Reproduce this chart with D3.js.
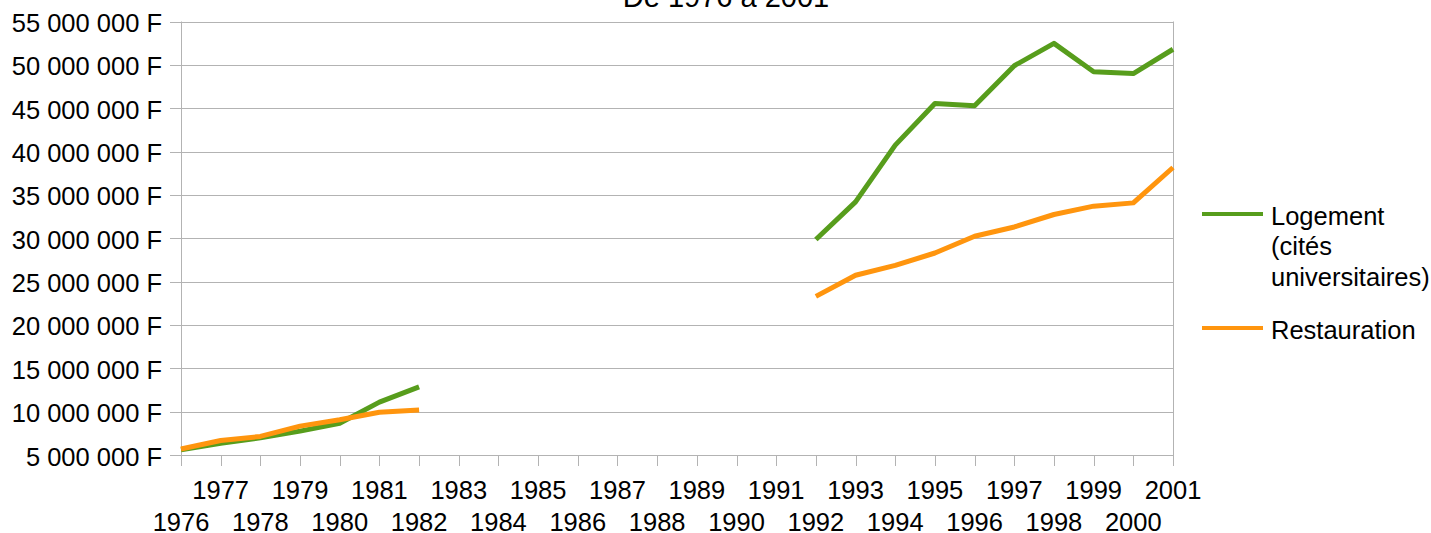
<!DOCTYPE html>
<html><head><meta charset="utf-8">
<script src="https://cdn.jsdelivr.net/npm/d3@7"></script>
<style>body{margin:0;background:#fff}svg{display:block}text{font-family:"Liberation Sans",Arial,sans-serif;fill:#000}</style>
</head><body><svg id="c" width="1431" height="533"></svg>
<script>
const years = d3.range(1976, 2002);
const logement = [5600000, 6360000, 6980000, 7750000, 8670000, 11100000, 12850000,
  null, null, null, null, null, null, null, null, null,
  29850000, 34190000, 40740000, 45550000, 45280000, 49900000, 52480000, 49200000, 49000000, 51800000];
const restauration = [5700000, 6670000, 7140000, 8330000, 9060000, 9940000, 10200000,
  null, null, null, null, null, null, null, null, null,
  23300000, 25730000, 26880000, 28300000, 30230000, 31300000, 32740000, 33700000, 34080000, 38160000];
const yTicks = d3.range(5000000, 55000001, 5000000);
const seriesNames = ["Logement (cités universitaires)", "Restauration"];
const legendLines = [["Logement", "(cités", "universitaires)"], ["Restauration"]];
const colors = ["#579d1c", "#ff950e"];
const title = "De 1976 à 2001";

const svg = d3.select("#c");
const L = 181, R = 1173, T = 21.5, B = 455;
const x = d3.scalePoint().domain(years).range([L, R]);
const y = d3.scaleLinear().domain([5000000, 55000000]).range([B, T]);
const loc = d3.formatLocale({decimal: ",", thousands: " ", grouping: [3], currency: ["", " F"]});
const fmt = loc.format("$,");
const grid = "#b3b3b3";
const fs = "25.5px";

// title
svg.append("text").attr("x", 726).attr("y", 7).attr("text-anchor", "middle")
  .style("font-size", "29px").text(title);

// gridlines
svg.append("g").selectAll("line").data(yTicks).join("line")
  .attr("x1", L - 11).attr("x2", R)
  .attr("y1", d => Math.round(y(d)) + 0.5).attr("y2", d => Math.round(y(d)) + 0.5)
  .attr("stroke", grid).attr("stroke-width", 1);

// y labels
svg.append("g").selectAll("text").data(yTicks).join("text")
  .attr("x", 162).attr("y", d => y(d) + 10.5)
  .attr("text-anchor", "end").style("font-size", fs).text(d => fmt(d));

// vertical axis lines
svg.append("line").attr("x1", L + 0.5).attr("x2", L + 0.5).attr("y1", T).attr("y2", B + 11).attr("stroke", grid);
svg.append("line").attr("x1", R + 0.5).attr("x2", R + 0.5).attr("y1", T).attr("y2", B + 11).attr("stroke", grid);

// x ticks
svg.append("g").selectAll("line").data(years).join("line")
  .attr("x1", d => Math.round(x(d)) + 0.5).attr("x2", d => Math.round(x(d)) + 0.5)
  .attr("y1", B).attr("y2", B + 11).attr("stroke", grid);

// x labels
svg.append("g").selectAll("text").data(years).join("text")
  .attr("x", d => x(d)).attr("y", d => (d % 2 === 1) ? 499 : 531)
  .attr("text-anchor", "middle").style("font-size", fs).text(d => d);

// lines
[logement, restauration].forEach((vals, i) => {
  const line = d3.line().defined(d => d != null)
    .x((d, j) => x(years[j])).y(d => y(d));
  svg.append("path").datum(vals).attr("d", line)
    .attr("fill", "none").attr("stroke", colors[i]).attr("stroke-width", 5)
    .attr("stroke-linejoin", "round");
});

// legend
const legY = [214, 328];
legendLines.forEach((lines, i) => {
  svg.append("line").attr("x1", 1202).attr("x2", 1263).attr("y1", legY[i]).attr("y2", legY[i])
    .attr("stroke", colors[i]).attr("stroke-width", 4);
  lines.forEach((t, k) => {
    svg.append("text").attr("x", 1271).attr("y", legY[i] + 10.5 + k * 30.8)
      .style("font-size", fs).text(t);
  });
});
</script></body></html>
